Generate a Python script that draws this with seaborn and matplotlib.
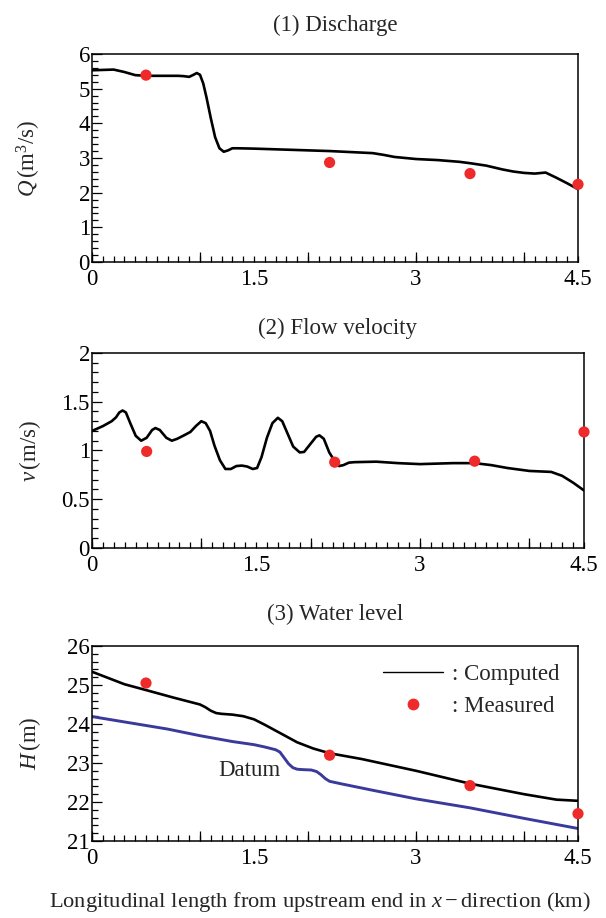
import numpy as np
import pandas as pd
import matplotlib
matplotlib.use("Agg")
import matplotlib.pyplot as plt
import seaborn as sns
from matplotlib.lines import Line2D
from matplotlib.legend_handler import HandlerLine2D
from matplotlib.ticker import MultipleLocator, NullFormatter, FuncFormatter

# ---------------- data ----------------
q_x = [0.0, 0.1, 0.2, 0.3, 0.4, 0.5, 0.6, 0.8, 0.85, 0.9, 0.94, 0.97, 1.0, 1.03, 1.06, 1.1, 1.14, 1.18,
       1.22, 1.26, 1.3, 1.35, 1.5, 1.8, 2.0, 2.2, 2.4, 2.6, 2.7, 2.8, 3.0, 3.2, 3.4, 3.5, 3.65, 3.8, 3.9,
       4.0, 4.1, 4.2, 4.3, 4.4, 4.5]
q_y = [5.53, 5.54, 5.55, 5.48, 5.39, 5.37, 5.37, 5.37, 5.36, 5.34, 5.4, 5.45, 5.4, 5.15, 4.75, 4.15, 3.6, 3.28,
       3.18, 3.22, 3.28, 3.28, 3.27, 3.24, 3.22, 3.2, 3.17, 3.14, 3.09, 3.03, 2.97, 2.94, 2.89, 2.85, 2.78, 2.67, 2.61,
       2.57, 2.55, 2.58, 2.43, 2.27, 2.1]
q_mx = [0.5, 2.2, 3.5, 4.5]
q_my = [5.39, 2.87, 2.55, 2.24]

v_x = [0.0, 0.1, 0.18, 0.22, 0.25, 0.28, 0.31, 0.35, 0.4, 0.45, 0.5, 0.55, 0.58, 0.62, 0.68, 0.73, 0.78,
       0.85, 0.9, 0.95, 1.0, 1.04, 1.08, 1.12, 1.17, 1.22, 1.27, 1.32, 1.37, 1.42, 1.47, 1.51, 1.55, 1.6,
       1.65, 1.7, 1.74, 1.79, 1.84, 1.9, 1.94, 2.0, 2.05, 2.08, 2.12, 2.17, 2.22, 2.26, 2.3, 2.35, 2.4,
       2.6, 2.8, 3.0, 3.3, 3.5, 3.65, 3.8, 4.0, 4.2, 4.3, 4.4, 4.5]
v_y = [1.2, 1.25, 1.3, 1.34, 1.39, 1.41, 1.39, 1.28, 1.15, 1.1, 1.13, 1.21, 1.23, 1.21, 1.13, 1.1, 1.12,
       1.16, 1.19, 1.25, 1.3, 1.28, 1.2, 1.05, 0.9, 0.81, 0.81, 0.84, 0.845, 0.835, 0.81, 0.82, 0.93, 1.13,
       1.28, 1.335, 1.3, 1.17, 1.04, 0.98, 0.985, 1.07, 1.14, 1.155, 1.12, 0.98, 0.89, 0.84, 0.85, 0.875, 0.88,
       0.885, 0.87, 0.86, 0.87, 0.87, 0.85, 0.82, 0.79, 0.78, 0.74, 0.67, 0.59]
v_mx = [0.5, 2.22, 3.5, 4.5]
v_my = [0.99, 0.88, 0.89, 1.19]

h_x = [0.0, 0.15, 0.3, 0.5, 0.75, 1.0, 1.05, 1.1, 1.15, 1.2, 1.3, 1.4, 1.5, 1.55, 1.6, 1.7, 1.9, 2.05,
       2.2, 2.5, 3.0, 3.5, 4.0, 4.3, 4.5]
h_y = [25.34, 25.18, 25.02, 24.87, 24.68, 24.5, 24.43, 24.34, 24.28, 24.26, 24.24, 24.2, 24.12, 24.05, 23.98,
       23.83, 23.53, 23.37, 23.25, 23.1, 22.8, 22.47, 22.2, 22.06, 22.03]
d_x = [0.0, 0.35, 0.7, 1.0, 1.3, 1.5, 1.6, 1.7, 1.74, 1.78, 1.82, 1.86, 1.9, 1.95, 2.03, 2.08, 2.12, 2.16,
       2.2, 2.25, 2.3, 2.6, 3.0, 3.5, 4.0, 4.5]
d_y = [24.19, 24.03, 23.87, 23.7, 23.55, 23.47, 23.41, 23.34, 23.28, 23.13, 22.98, 22.88, 22.84, 22.83, 22.82,
       22.78, 22.7, 22.6, 22.53, 22.5, 22.47, 22.3, 22.08, 21.85, 21.58, 21.32]
h_mx = [0.5, 2.2, 3.5, 4.5]
h_my = [25.05, 23.2, 22.42, 21.7]

x_tick_labels = [0, 1.5, 3, 4.5]
titles = ["(1) Discharge", "(2) Flow velocity", "(3) Water level"]
ylabels = [r"$Q\,(\mathrm{m}^3\mathrm{/s})$", r"$v\,(\mathrm{m/s})$", r"$H\,(\mathrm{m})$"]
xlabel = r"Longitudinal length from upstream end in $x-$direction (km)"

# ---------------- style ----------------
sns.set_style("ticks")
plt.rcParams["font.family"] = ["Liberation Serif", "DejaVu Serif"]
plt.rcParams["mathtext.fontset"] = "custom"
plt.rcParams["mathtext.rm"] = "Liberation Serif"
plt.rcParams["mathtext.it"] = "Liberation Serif:italic"
plt.rcParams["mathtext.bf"] = "Liberation Serif:bold"
plt.rcParams["lines.solid_joinstyle"] = "round"
FS = 16.5
RED = "#ee2a2a"
BLUE = "#3a3a9c"

fig = plt.figure(figsize=(6.06, 9.18), dpi=100)
axs = [fig.add_axes([0.1518, 0.7146, 0.802, 0.2266]),
       fig.add_axes([0.1518, 0.4031, 0.8119, 0.2124]),
       fig.add_axes([0.1518, 0.0839, 0.802, 0.2124])]

dq = pd.DataFrame({"x": q_x, "y": q_y})
dv = pd.DataFrame({"x": v_x, "y": v_y})
dh = pd.DataFrame({"x": h_x, "y": h_y})
dd = pd.DataFrame({"x": d_x, "y": d_y})

sns.lineplot(data=dq, x="x", y="y", ax=axs[0], color="black", lw=1.9)
sns.scatterplot(x=q_mx, y=q_my, ax=axs[0], color=RED, s=65, edgecolor="none", zorder=5, clip_on=False)
sns.lineplot(data=dv, x="x", y="y", ax=axs[1], color="black", lw=1.9)
sns.scatterplot(x=v_mx, y=v_my, ax=axs[1], color=RED, s=65, edgecolor="none", zorder=5, clip_on=False)
sns.lineplot(data=dh, x="x", y="y", ax=axs[2], color="black", lw=1.9)
sns.lineplot(data=dd, x="x", y="y", ax=axs[2], color=BLUE, lw=2.1)
sns.scatterplot(x=h_mx, y=h_my, ax=axs[2], color=RED, s=65, edgecolor="none", zorder=5, clip_on=False)

ylims = [(0, 6), (0, 2), (21, 26)]
ymaj = [1, 0.5, 1]
ymin = [0.2, 0.1, 0.2]
title_pads = [16.5, 13.5, 19]
axw = [486, 492, 486]


def xlab(v, p):
    for t in x_tick_labels:
        if abs(v - t) < 1e-6:
            return f"{t:g}"
    return ""


for i, ax in enumerate(axs):
    ax.set_xlim(0, 4.5)
    ax.set_ylim(*ylims[i])
    ax.xaxis.remove_overlapping_locs = False
    ax.xaxis.set_major_locator(MultipleLocator(1.0))
    ax.xaxis.set_minor_locator(MultipleLocator(0.1))
    ax.xaxis.set_major_formatter(NullFormatter())
    ax.xaxis.set_minor_formatter(FuncFormatter(xlab))
    ax.yaxis.set_major_locator(MultipleLocator(ymaj[i]))
    ax.yaxis.set_minor_locator(MultipleLocator(ymin[i]))
    ax.yaxis.set_major_formatter(FuncFormatter(lambda v, p: f"{v:g}"))
    ax.tick_params(which="both", direction="in", top=False, right=False, labelsize=FS,
                   width=0.9, color="black", labelcolor="black")
    ax.tick_params(which="major", length=7.5)
    ax.tick_params(which="minor", length=4)
    ax.tick_params(axis="x", which="minor", pad=5)
    ax.tick_params(axis="y", which="major", pad=1.5)
    for s in ax.spines.values():
        s.set_visible(True)
        s.set_linewidth(1.1)
        s.set_color("black")
    ax.set_title(titles[i], fontsize=FS, pad=title_pads[i])
    ax.set_xlabel("")
    ax.set_ylabel(ylabels[i], fontsize=FS)
    ax.yaxis.set_label_coords(-(92 - 43) / axw[i], 0.5)

axs[2].text(1.17, 22.82, "Datum", fontsize=FS, ha="left", va="center")


class RightMarkerHandler(HandlerLine2D):
    def get_xdata(self, legend, xdescent, ydescent, width, height, fontsize):
        xd, xm = super().get_xdata(legend, xdescent, ydescent, width, height, fontsize)
        return xd, np.array([-xdescent + width * 0.82])


handles = [Line2D([], [], color="black", lw=1.0),
           Line2D([], [], color=RED, marker="o", ls="none", markersize=8.5, markeredgecolor="none")]
leg = axs[2].legend(handles, [": Computed", ": Measured"], loc="upper left", frameon=False,
                    fontsize=FS, handlelength=2.62, handletextpad=0.4, labelspacing=0.5,
                    borderpad=0, borderaxespad=0, bbox_to_anchor=(0.599, 0.91),
                    handler_map={handles[1]: RightMarkerHandler(numpoints=1)})

fig.text(0.528, 0.0115, xlabel, ha="center", va="baseline", fontsize=16.2)

fig.savefig("out.png", dpi=100)
